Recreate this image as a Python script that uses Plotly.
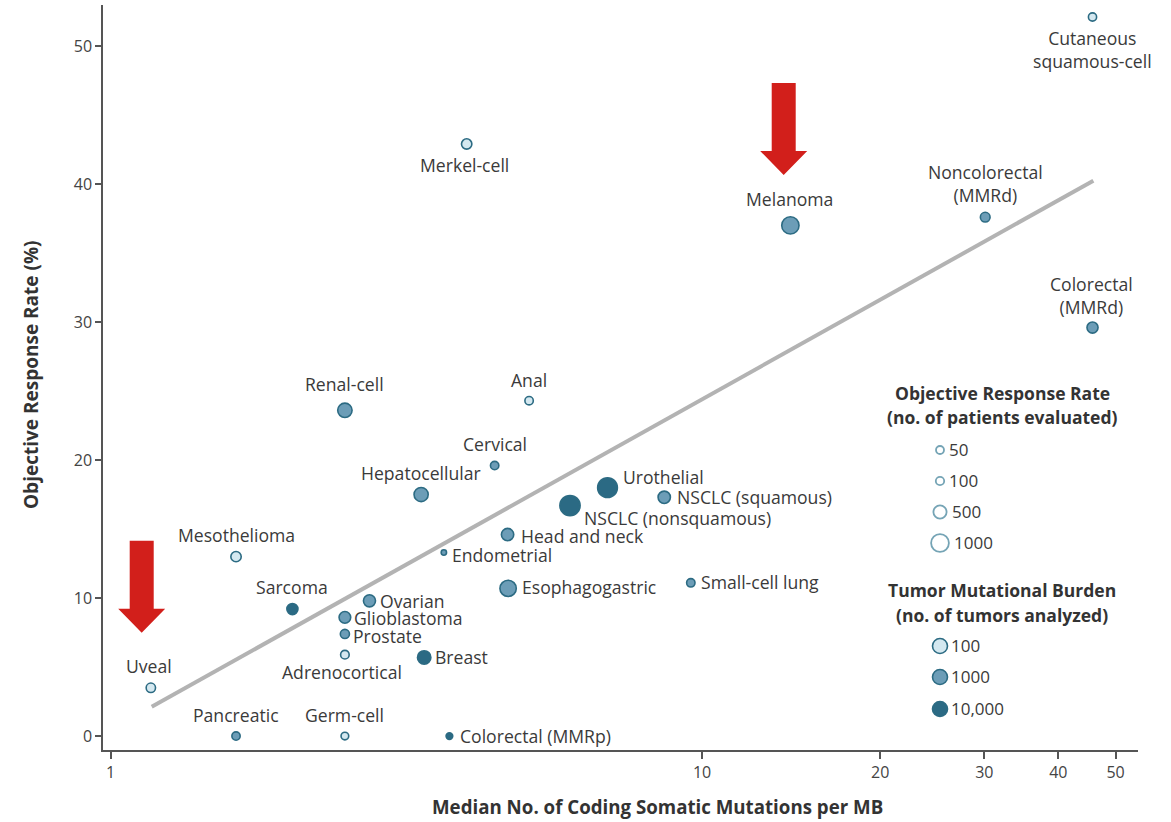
import numpy as np
import plotly.graph_objects as go

# ---------------- data ----------------
cancer = ["Cutaneous squamous-cell", "Merkel-cell", "Melanoma", "Noncolorectal (MMRd)",
          "Colorectal (MMRd)", "Renal-cell", "Anal", "Cervical", "Hepatocellular",
          "Urothelial", "NSCLC (squamous)", "NSCLC (nonsquamous)", "Head and neck",
          "Endometrial", "Mesothelioma", "Esophagogastric", "Small-cell lung", "Sarcoma",
          "Ovarian", "Glioblastoma", "Prostate", "Adrenocortical", "Breast", "Uveal",
          "Pancreatic", "Germ-cell", "Colorectal (MMRp)"]
mutations_per_mb = [45.7, 4.0, 14.1, 30.1, 45.7, 2.49, 5.1, 4.46, 3.35,
                    6.92, 8.63, 5.98, 4.69, 3.66, 1.63, 4.70, 9.57, 2.03,
                    2.74, 2.49, 2.49, 2.49, 3.39, 1.17, 1.63, 2.49, 3.74]
response_rate = [52.1, 42.9, 37.0, 37.6, 29.6, 23.6, 24.3, 19.6, 17.5,
                 18.0, 17.3, 16.7, 14.6, 13.3, 13.0, 10.7, 11.1, 9.2,
                 9.8, 8.6, 7.4, 5.9, 5.7, 3.5, 0.0, 0.0, 0.0]
patients_evaluated = [50, 180, 900, 145, 230, 580, 70, 70, 560,
                      1300, 350, 1400, 350, 15, 180, 780, 70, 230,
                      320, 280, 120, 100, 500, 130, 60, 40, 26]
tumors_analyzed = [100, 100, 1000, 1000, 1000, 1000, 100, 1000, 1000,
                   10000, 1000, 10000, 1000, 1000, 100, 1000, 1000, 10000,
                   1000, 1000, 1000, 100, 10000, 100, 1000, 100, 10000]

trend_x = [1.174, 45.85]
trend_y = [2.12, 40.24]

x_ticks = [1, 10, 20, 30, 40, 50]
x_tick_labels = ["1", "10", "20", "30", "40", "50"]
y_ticks = [0, 10, 20, 30, 40, 50]

orr_legend_values = [50, 100, 500, 1000]
orr_legend_labels = ["50", "100", "500", "1000"]
tmb_legend_values = [100, 1000, 10000]
tmb_legend_labels = ["100", "1000", "10,000"]

# ---------------- styling ----------------
W, H = 1171, 822
ML, MR, MT, MB = 103, 33, 5, 72
PW, PH = W - ML - MR, H - MT - MB

OUTLINE = "#2c6b83"
TEXT = "#3a3a3a"
LABEL_FONT = dict(family="Open Sans, Noto Sans, sans-serif", size=17.6, color=TEXT)
TITLE_FAMILY = "Open Sans, Noto Sans, sans-serif"


def diameter(n):
    ln = np.log10(np.asarray(n, dtype=float))
    return np.interp(ln, np.log10([10, 50, 100, 500, 1000, 2000]),
                     [6.0, 9.8, 10.2, 15.0, 19.6, 24.2])


def tmb_color(n):
    ln = np.log10(np.asarray(n, dtype=float))
    light = np.array([212, 232, 240])
    mid = np.array([108, 157, 183])
    dark = np.array([43, 106, 132])
    out = []
    for v in np.atleast_1d(ln):
        if v <= 3:
            t = np.clip(v - 2, 0, 1)
            c = light + (mid - light) * t
        else:
            t = np.clip(v - 3, 0, 1)
            c = mid + (dark - mid) * t
        out.append("rgb(%d,%d,%d)" % tuple(np.round(c)))
    return out


def px2paper(px, py):
    return (px - ML) / PW, (H - MB - py) / PH


LW = 1.6
sizes = diameter(patients_evaluated) - LW
colors = tmb_color(tumors_analyzed)

fig = go.Figure()

# trend line
fig.add_trace(go.Scatter(x=trend_x, y=trend_y, mode="lines",
                         line=dict(color="#b3b3b3", width=4), hoverinfo="skip",
                         showlegend=False))

# data points
fig.add_trace(go.Scatter(x=mutations_per_mb, y=response_rate, mode="markers",
                         marker=dict(size=sizes, color=colors,
                                     line=dict(color=OUTLINE, width=LW), opacity=1),
                         text=cancer, showlegend=False))

# label placement: (xanchor, dx, dy, override text) offsets in pixels, dy positive = up
label_place = {
    "Cutaneous squamous-cell": ("center", 0, -32, "Cutaneous<br>squamous-cell"),
    "Merkel-cell": ("center", -2, -21, None),
    "Melanoma": ("center", -1, 26, None),
    "Noncolorectal (MMRd)": ("center", 0, 34, "Noncolorectal<br>(MMRd)"),
    "Colorectal (MMRd)": ("center", -1, 32, "Colorectal<br>(MMRd)"),
    "Renal-cell": ("center", 0, 26, None),
    "Anal": ("center", 0, 21, None),
    "Cervical": ("center", 0, 22, None),
    "Hepatocellular": ("center", 0, 22, None),
    "Mesothelioma": ("center", 0, 22, None),
    "Sarcoma": ("center", 0, 22, None),
    "Uveal": ("center", -2, 22, None),
    "Pancreatic": ("center", 0, 21, None),
    "Germ-cell": ("center", 0, 21, None),
    "Adrenocortical": ("center", -3, -17, None),
    "Urothelial": ("left", 14, 11, None),
    "NSCLC (squamous)": ("left", 12, 0, None),
    "NSCLC (nonsquamous)": ("left", 13, -12, None),
    "Head and neck": ("left", 12, -1, None),
    "Endometrial": ("left", 7, -2, None),
    "Esophagogastric": ("left", 13, 1, None),
    "Small-cell lung": ("left", 9, 1, None),
    "Ovarian": ("left", 10, 0, None),
    "Glioblastoma": ("left", 8, -1, None),
    "Prostate": ("left", 7, -2, None),
    "Breast": ("left", 10, 0, None),
    "Colorectal (MMRp)": ("left", 10, 0, None),
}

annotations = []
for name, xv, yv in zip(cancer, mutations_per_mb, response_rate):
    xa, dx, dy, txt = label_place[name]
    annotations.append(dict(x=np.log10(xv), y=yv, xref="x", yref="y",
                            text=txt if txt else name, showarrow=False,
                            xanchor=xa, yanchor="middle", xshift=dx, yshift=dy,
                            borderpad=0, font=LABEL_FONT, align="center"))

# axis titles
tx, ty = px2paper(657, 806)
annotations.append(dict(x=tx, y=ty, xref="paper", yref="paper", showarrow=False,
                        text="<b>Median No. of Coding Somatic Mutations per MB</b>",
                        font=dict(family=TITLE_FAMILY, size=18.7, color="#333"),
                        xanchor="center", yanchor="middle"))
tx, ty = px2paper(31, 375)
annotations.append(dict(x=tx, y=ty, xref="paper", yref="paper", showarrow=False,
                        text="<b>Objective Response Rate (%)</b>", textangle=-90,
                        font=dict(family=TITLE_FAMILY, size=19, color="#333"),
                        xanchor="center", yanchor="middle"))

# legend (drawn on an overlay axis spanning the plot area, 0..1)
LEG_FONT = dict(family="Open Sans, Noto Sans, sans-serif", size=17, color=TEXT)
LEG_TITLE_FONT = dict(family="Open Sans, Noto Sans, sans-serif", size=17.5, color="#333")
lx, _ = px2paper(940, 0)
orr_py = [450, 481, 512, 543]
tmb_py = [646, 677, 709]
orr_ly = [px2paper(0, p)[1] for p in orr_py]
tmb_ly = [px2paper(0, p)[1] for p in tmb_py]
orr_d = diameter(orr_legend_values)

fig.add_trace(go.Scatter(x=[lx] * 4, y=orr_ly, xaxis="x2", yaxis="y2", mode="markers",
                         marker=dict(size=orr_d - 1.8, color="white",
                                     line=dict(color="#3b7e97", width=1.8)),
                         hoverinfo="skip", showlegend=False))
fig.add_trace(go.Scatter(x=[lx] * 3, y=tmb_ly, xaxis="x2", yaxis="y2", mode="markers",
                         marker=dict(size=15, color=tmb_color(tmb_legend_values),
                                     line=dict(color=OUTLINE, width=1.6)),
                         hoverinfo="skip", showlegend=False))

for yv, lab, d in zip(orr_ly, orr_legend_labels, orr_d):
    annotations.append(dict(x=lx, y=yv, xref="paper", yref="paper", text=lab,
                            showarrow=False, xanchor="left", yanchor="middle",
                            xshift=d / 2 + 2, yshift=1, font=LEG_FONT))
for yv, lab in zip(tmb_ly, tmb_legend_labels):
    annotations.append(dict(x=lx, y=yv, xref="paper", yref="paper", text=lab,
                            showarrow=False, xanchor="left", yanchor="middle",
                            xshift=9, yshift=1, font=LEG_FONT))

for text, py in [("<b>Objective Response Rate</b>", 393),
                 ("<b>(no. of patients evaluated)</b>", 417),
                 ("<b>Tumor Mutational Burden</b>", 590),
                 ("<b>(no. of tumors analyzed)</b>", 615)]:
    xx, yy = px2paper(1002, py)
    annotations.append(dict(x=xx, y=yy, xref="paper", yref="paper", text=text,
                            showarrow=False, xanchor="center", yanchor="middle",
                            font=LEG_TITLE_FONT))

# red arrows (decorative callouts)
def arrow_path(tipx, tipy, shaft=24, head=47, total=92, head_h=24):
    pts = [(tipx - shaft / 2, tipy - total), (tipx + shaft / 2, tipy - total),
           (tipx + shaft / 2, tipy - head_h), (tipx + head / 2, tipy - head_h),
           (tipx, tipy), (tipx - head / 2, tipy - head_h),
           (tipx - shaft / 2, tipy - head_h)]
    p = [px2paper(a, b) for a, b in pts]
    return "M " + " L ".join("%.5f,%.5f" % q for q in p) + " Z"

shapes = [dict(type="path", xref="paper", yref="paper", path=arrow_path(141.7, 632.7),
               fillcolor="#d21f1b", line=dict(width=0)),
          dict(type="path", xref="paper", yref="paper", path=arrow_path(783.7, 175),
               fillcolor="#d21f1b", line=dict(width=0))]

xmin = (ML - 110.5) / 591.6
xmax = (W - MR - 110.5) / 591.6

fig.update_layout(
    width=W, height=H, margin=dict(l=ML, r=MR, t=MT, b=MB, pad=0),
    paper_bgcolor="white", plot_bgcolor="white", showlegend=False,
    xaxis=dict(type="log", range=[xmin, xmax], tickvals=x_ticks, ticktext=x_tick_labels,
               ticks="outside", ticklen=7, tickwidth=1.5, tickcolor="#555",
               showline=True, linecolor="#555", linewidth=1.5, showgrid=False,
               zeroline=False, tickfont=dict(family="Open Sans, sans-serif", size=16,
                                             color="#444")),
    yaxis=dict(range=[-1.01, 52.97], tickvals=y_ticks, ticks="outside", ticklen=6,
               tickwidth=1.5, tickcolor="#555", showline=True, linecolor="#555",
               linewidth=1.5, showgrid=False, zeroline=False,
               tickfont=dict(family="Open Sans, sans-serif", size=16, color="#444")),
    xaxis2=dict(overlaying="x", range=[0, 1], visible=False, showgrid=False),
    yaxis2=dict(overlaying="y", range=[0, 1], visible=False, showgrid=False),
    annotations=annotations, shapes=shapes,
)

fig.write_html("out.html")
